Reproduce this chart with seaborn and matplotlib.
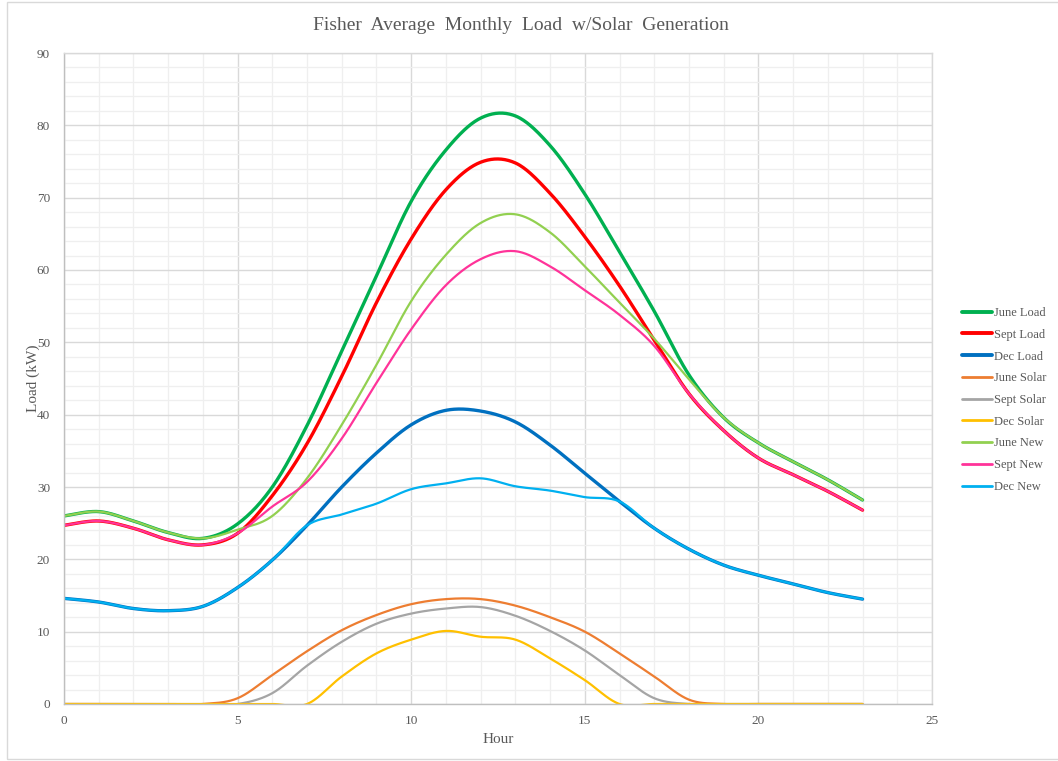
import numpy as np
import pandas as pd
import matplotlib
matplotlib.use("Agg")
import matplotlib.pyplot as plt
from matplotlib.patches import Rectangle
from matplotlib.lines import Line2D
from matplotlib.ticker import MultipleLocator
import seaborn as sns

# Hourly averages (kW)
hours = list(range(24))

june_load = [26.0, 26.6, 25.3, 23.7, 22.9, 24.9, 30.0, 38.5, 48.8, 59.2, 69.5, 76.6,
             81.0, 81.3, 77.2, 70.5, 62.5, 54.3, 45.5, 39.6, 36.1, 33.5, 31.0, 28.2]
sept_load = [24.7, 25.3, 24.3, 22.7, 22.0, 23.6, 28.8, 36.0, 45.3, 55.5, 64.3, 71.1,
             74.9, 74.8, 70.6, 64.6, 57.8, 50.3, 42.9, 37.8, 34.0, 31.7, 29.4, 26.8]
dec_load = [14.6, 14.1, 13.2, 12.9, 13.5, 16.1, 19.9, 24.7, 30.0, 34.7, 38.6, 40.6,
            40.5, 39.0, 35.8, 31.9, 28.0, 24.3, 21.4, 19.2, 17.8, 16.6, 15.4, 14.5]

june_solar = [0, 0, 0, 0, 0, 0.8, 4.0, 7.3, 10.2, 12.3, 13.8, 14.5,
              14.5, 13.6, 12.0, 10.0, 7.0, 3.8, 0.6, 0, 0, 0, 0, 0]
sept_solar = [0, 0, 0, 0, 0, 0, 1.5, 5.3, 8.6, 11.1, 12.5, 13.2,
              13.4, 12.2, 10.1, 7.4, 4.0, 0.8, 0, 0, 0, 0, 0, 0]
dec_solar = [0, 0, 0, 0, 0, 0, 0, 0, 3.8, 7.0, 8.9, 10.1,
             9.3, 8.9, 6.3, 3.3, 0, 0, 0, 0, 0, 0, 0, 0]

june_new = [26.0, 26.6, 25.3, 23.7, 22.9, 24.1, 26.0, 31.2, 38.6, 46.9, 55.7, 62.1,
            66.5, 67.7, 65.2, 60.5, 55.5, 50.5, 44.9, 39.6, 36.1, 33.5, 31.0, 28.2]
sept_new = [24.7, 25.3, 24.3, 22.7, 22.0, 23.6, 27.3, 30.7, 36.7, 44.4, 51.8, 57.9,
            61.5, 62.6, 60.5, 57.2, 53.8, 49.5, 42.9, 37.8, 34.0, 31.7, 29.4, 26.8]
dec_new = [14.6, 14.1, 13.2, 12.9, 13.5, 16.1, 19.9, 24.7, 26.2, 27.7, 29.7, 30.5,
           31.2, 30.1, 29.5, 28.6, 28.0, 24.3, 21.4, 19.2, 17.8, 16.6, 15.4, 14.5]

series_names = ["June Load", "Sept Load", "Dec Load", "June Solar", "Sept Solar",
                "Dec Solar", "June New", "Sept New", "Dec New"]
series_values = [june_load, sept_load, dec_load, june_solar, sept_solar, dec_solar,
                 june_new, sept_new, dec_new]
series_colors = ["#00B050", "#FF0000", "#0070C0", "#ED7D31", "#A5A5A5", "#FFC000",
                 "#92D050", "#FF3399", "#00B0F0"]
series_widths = [2.4, 2.4, 2.4, 1.6, 1.6, 1.6, 1.6, 1.6, 1.6]


def smooth(x, y, n=30):
    """Spreadsheet-style smoothed line: cubic Bezier segments with
    Catmull-Rom control points passing through every data point."""
    x = np.asarray(x, float)
    y = np.asarray(y, float)
    px = np.concatenate([[x[0]], x, [x[-1]]])
    py = np.concatenate([[y[0]], y, [y[-1]]])
    t = np.linspace(0, 1, n, endpoint=False)
    xs, ys = [], []
    for i in range(len(x) - 1):
        p0 = np.array([px[i], py[i]])
        p1 = np.array([px[i + 1], py[i + 1]])
        p2 = np.array([px[i + 2], py[i + 2]])
        p3 = np.array([px[i + 3], py[i + 3]])
        c1 = p1 + (p2 - p0) / 6.0
        c2 = p2 - (p3 - p1) / 6.0
        b = ((1 - t) ** 3)[:, None] * p1 + (3 * (1 - t) ** 2 * t)[:, None] * c1 \
            + (3 * (1 - t) * t ** 2)[:, None] * c2 + (t ** 3)[:, None] * p2
        xs.append(b[:, 0])
        ys.append(b[:, 1])
    xs.append([x[-1]])
    ys.append([y[-1]])
    return np.concatenate(xs), np.concatenate(ys)


sns.set_theme(style="white")
plt.rcParams["font.family"] = ["Liberation Serif", "DejaVu Serif"]

W, H = 1058, 761
fig = plt.figure(figsize=(W / 100, H / 100), dpi=100)
ax = fig.add_axes([64 / W, 1 - 704 / H, (932 - 64) / W, (704 - 53) / H])

# chart-area border
fig.patches.append(Rectangle((7 / W, 1 - 759 / H), (1070 - 7) / W, (759 - 2) / H,
                             transform=fig.transFigure, fill=False,
                             edgecolor="#d9d9d9", linewidth=1.0, zorder=0))

handles = []
for name, vals, col, lw in zip(series_names, series_values, series_colors, series_widths):
    sx, sy = smooth(hours, vals)
    df = pd.DataFrame({"Hour": sx, "Load": sy})
    sns.lineplot(data=df, x="Hour", y="Load", ax=ax, color=col, linewidth=lw,
                 sort=False, estimator=None)
    handles.append(Line2D([], [], color=col, linewidth=lw + 0.4))

ax.set_xlim(0, 25)
ax.set_ylim(0, 90)
ax.xaxis.set_major_locator(MultipleLocator(5))
ax.xaxis.set_minor_locator(MultipleLocator(1))
ax.yaxis.set_major_locator(MultipleLocator(10))
ax.yaxis.set_minor_locator(MultipleLocator(2))
ax.grid(which="major", color="#d9d9d9", linewidth=1.0)
ax.grid(which="minor", color="#efefef", linewidth=0.9)
ax.set_axisbelow(True)

for side in ["top", "right"]:
    ax.spines[side].set_color("#d9d9d9")
    ax.spines[side].set_linewidth(1.0)
for side in ["left", "bottom"]:
    ax.spines[side].set_color("#bfbfbf")
    ax.spines[side].set_linewidth(1.0)

ax.tick_params(which="both", length=0, labelsize=9.5, labelcolor="#595959")
ax.tick_params(axis="y", pad=10)
ax.tick_params(axis="x", pad=8)

ax.set_xlabel("Hour", fontsize=11, color="#595959", labelpad=4)
ax.set_ylabel("Load (kW)", fontsize=11, color="#595959", labelpad=-2)

fig.text(521 / W, 1 - 25 / H, "Fisher  Average  Monthly  Load  w/Solar  Generation",
         ha="center", va="center", fontsize=14, color="#595959")

fig.legend(handles, series_names, loc="center left",
           bbox_to_anchor=(962 / W, 1 - 400 / H), frameon=False,
           fontsize=9, labelcolor="#595959", handlelength=2.4,
           handletextpad=0.15, labelspacing=0.78, borderpad=0, borderaxespad=0)

fig.savefig("out.png", dpi=100, facecolor="white")
